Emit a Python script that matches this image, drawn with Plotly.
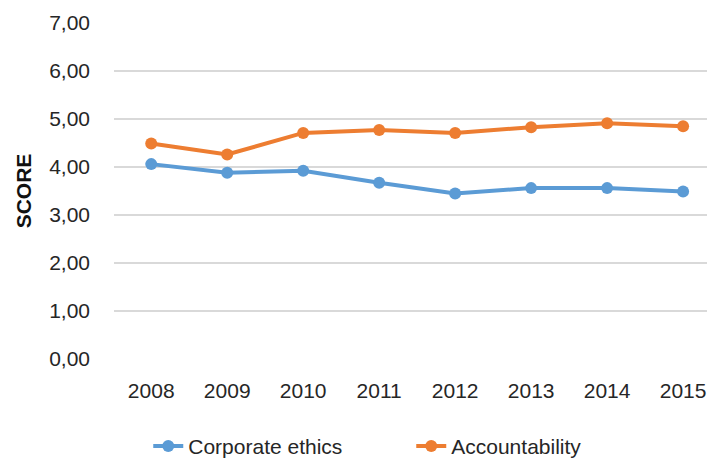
import plotly.graph_objects as go

years = ["2008", "2009", "2010", "2011", "2012", "2013", "2014", "2015"]
corporate_ethics = [4.06, 3.88, 3.92, 3.67, 3.45, 3.56, 3.56, 3.49]
accountability = [4.49, 4.26, 4.71, 4.77, 4.71, 4.83, 4.91, 4.85]
y_ticks = [0, 1, 2, 3, 4, 5, 6, 7]

BLUE = "#5B9BD5"
ORANGE = "#ED7D31"
FONT = "Liberation Sans, Arial, sans-serif"
TXT = "#262626"

fig = go.Figure()
fig.add_trace(go.Scatter(x=years, y=corporate_ethics, name="Corporate ethics",
                         mode="lines+markers",
                         line=dict(color=BLUE, width=4),
                         marker=dict(color=BLUE, size=12)))
fig.add_trace(go.Scatter(x=years, y=accountability, name="Accountability",
                         mode="lines+markers",
                         line=dict(color=ORANGE, width=4),
                         marker=dict(color=ORANGE, size=12)))

fig.update_layout(
    width=715, height=462,
    margin=dict(l=106, r=8, t=15, b=111, autoexpand=False),
    paper_bgcolor="white", plot_bgcolor="white",
    separators=",.",
    font=dict(family=FONT, size=21, color=TXT),
    showlegend=True,
    legend=dict(orientation="h", x=0.057, xanchor="left", y=-0.199, yanchor="top",
                font=dict(size=21, color=TXT), entrywidth=218,
                traceorder="normal"),
    xaxis=dict(type="category", range=[-0.49, 7.42], showgrid=False,
               showline=False, ticks="", tickfont=dict(size=21, color=TXT),
               ticklabelstandoff=17, automargin=False),
    yaxis=dict(range=[0, 7], tickvals=y_ticks, tickformat=".2f",
               showgrid=True, gridcolor="#D9D9D9", gridwidth=2,
               zeroline=False, showline=False, ticks="",
               tickfont=dict(size=21, color=TXT), ticklabelstandoff=23,
               automargin=False,
               title=dict(text="<b>SCORE</b>", font=dict(size=21, color="#111111"), standoff=11)),
)

fig.write_html("out.html")
